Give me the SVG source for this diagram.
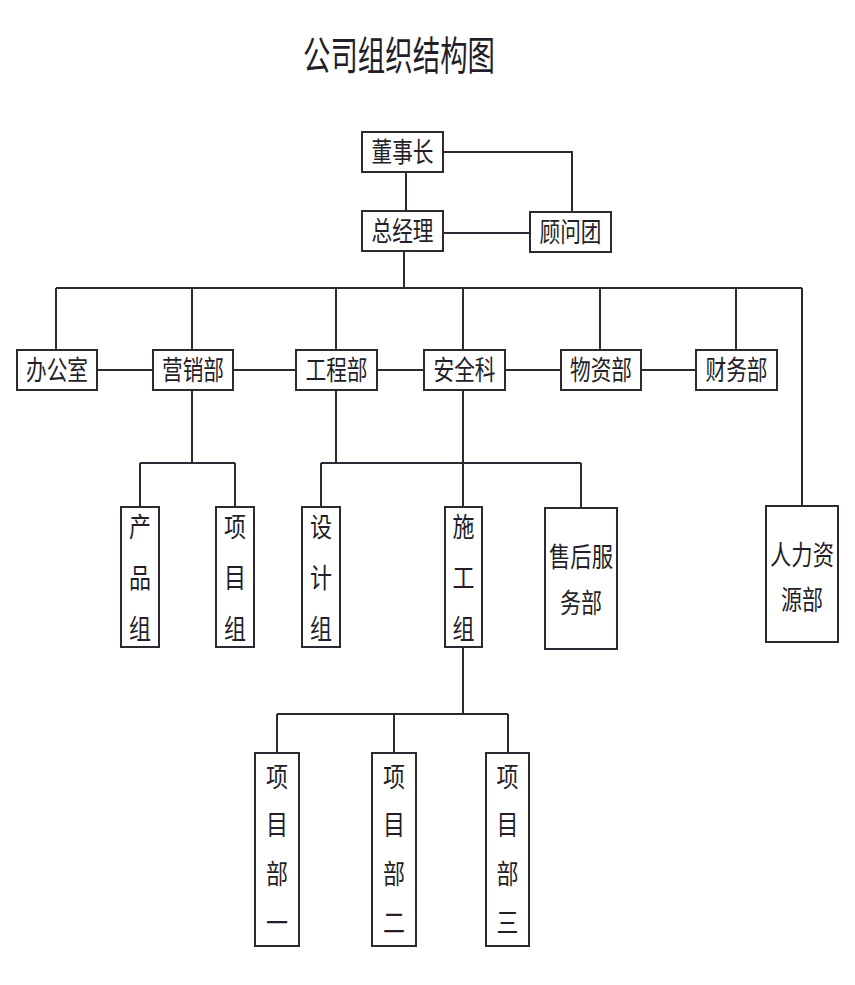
<svg xmlns="http://www.w3.org/2000/svg" width="855" height="985" viewBox="0 0 855 985">
<style>
.b{fill:#fff;stroke:#2e2833;stroke-width:2}
.t{font-family:"Noto Sans CJK SC","Noto Sans CJK JP",sans-serif;font-size:27px;fill:#231e28;text-anchor:middle}
.c{fill:none;stroke:#2e2833;stroke-width:2}
</style>
<rect width="855" height="985" fill="#fff"/>
<text x="399" y="70" class="t" style="font-size:40px" textLength="192" lengthAdjust="spacingAndGlyphs">公司组织结构图</text>
<g id="connectors">
<path class="c" d="M406 172V211M443 152H572V212M443 233H530M404 251V288M56 288H802M56 288V350M192 288V350M336 288V350M463 288V350M600 288V350M736 288V350M802 288V506"/>
<path class="c" d="M97 370H153M233 370H296M377 370H424M505 370H561M641 370H696"/>
<path class="c" d="M192 390V463M140 463H235M140 463V507M235 463V507M336 390V463M321 463H581M321 463V507M581 463V508M463 390V507"/>
<path class="c" d="M463 647V714M277 714H508M277 714V753M394 714V753M508 714V753"/>
</g>
<g id="n-dongshizhang"><rect class="b" x="362" y="132" width="81" height="40"/><text class="t" x="402.5" y="162" textLength="62" lengthAdjust="spacingAndGlyphs">董事长</text></g>
<g id="n-zongjingli"><rect class="b" x="362" y="211" width="81" height="40"/><text class="t" x="402.5" y="241" textLength="62" lengthAdjust="spacingAndGlyphs">总经理</text></g>
<g id="n-guwentuan"><rect class="b" x="530" y="212" width="81" height="40"/><text class="t" x="570.5" y="242" textLength="62" lengthAdjust="spacingAndGlyphs">顾问团</text></g>
<g id="n-bangongshi"><rect class="b" x="17" y="350" width="80" height="40"/><text class="t" x="57" y="380" textLength="62" lengthAdjust="spacingAndGlyphs">办公室</text></g>
<g id="n-yingxiaobu"><rect class="b" x="153" y="350" width="80" height="40"/><text class="t" x="193" y="380" textLength="62" lengthAdjust="spacingAndGlyphs">营销部</text></g>
<g id="n-gongchengbu"><rect class="b" x="296" y="350" width="81" height="40"/><text class="t" x="336.5" y="380" textLength="62" lengthAdjust="spacingAndGlyphs">工程部</text></g>
<g id="n-anquanke"><rect class="b" x="424" y="350" width="81" height="40"/><text class="t" x="464.5" y="380" textLength="62" lengthAdjust="spacingAndGlyphs">安全科</text></g>
<g id="n-wuzibu"><rect class="b" x="561" y="350" width="80" height="40"/><text class="t" x="601" y="380" textLength="62" lengthAdjust="spacingAndGlyphs">物资部</text></g>
<g id="n-caiwubu"><rect class="b" x="696" y="350" width="81" height="40"/><text class="t" x="736.5" y="380" textLength="62" lengthAdjust="spacingAndGlyphs">财务部</text></g>
<g id="n-chanpinzu"><rect class="b" x="121" y="507" width="38" height="140"/>
<text class="t" x="140" y="537" textLength="22" lengthAdjust="spacingAndGlyphs">产</text>
<text class="t" x="140" y="588" textLength="22" lengthAdjust="spacingAndGlyphs">品</text>
<text class="t" x="140" y="639" textLength="22" lengthAdjust="spacingAndGlyphs">组</text></g>
<g id="n-xiangmuzu"><rect class="b" x="216" y="507" width="38" height="140"/>
<text class="t" x="235" y="537" textLength="22" lengthAdjust="spacingAndGlyphs">项</text>
<text class="t" x="235" y="588" textLength="22" lengthAdjust="spacingAndGlyphs">目</text>
<text class="t" x="235" y="639" textLength="22" lengthAdjust="spacingAndGlyphs">组</text></g>
<g id="n-shejizu"><rect class="b" x="302" y="507" width="38" height="140"/>
<text class="t" x="321" y="537" textLength="22" lengthAdjust="spacingAndGlyphs">设</text>
<text class="t" x="321" y="588" textLength="22" lengthAdjust="spacingAndGlyphs">计</text>
<text class="t" x="321" y="639" textLength="22" lengthAdjust="spacingAndGlyphs">组</text></g>
<g id="n-shigongzu"><rect class="b" x="445" y="507" width="37" height="140"/>
<text class="t" x="463.5" y="537" textLength="22" lengthAdjust="spacingAndGlyphs">施</text>
<text class="t" x="463.5" y="588" textLength="22" lengthAdjust="spacingAndGlyphs">工</text>
<text class="t" x="463.5" y="639" textLength="22" lengthAdjust="spacingAndGlyphs">组</text></g>
<g id="n-shouhoufuwubu"><rect class="b" x="545" y="508" width="72" height="141"/>
<text class="t" x="581" y="567" textLength="64" lengthAdjust="spacingAndGlyphs">售后服</text>
<text class="t" x="581" y="613" textLength="42" lengthAdjust="spacingAndGlyphs">务部</text></g>
<g id="n-renliziyuanbu"><rect class="b" x="766" y="506" width="72" height="136"/>
<text class="t" x="802" y="565" textLength="64" lengthAdjust="spacingAndGlyphs">人力资</text>
<text class="t" x="802" y="610" textLength="42" lengthAdjust="spacingAndGlyphs">源部</text></g>
<g id="n-xiangmubu1"><rect class="b" x="255" y="753" width="44" height="193"/>
<text class="t" x="277" y="787" textLength="22" lengthAdjust="spacingAndGlyphs">项</text>
<text class="t" x="277" y="835" textLength="22" lengthAdjust="spacingAndGlyphs">目</text>
<text class="t" x="277" y="884" textLength="22" lengthAdjust="spacingAndGlyphs">部</text>
<text class="t" x="277" y="933" textLength="22" lengthAdjust="spacingAndGlyphs">一</text></g>
<g id="n-xiangmubu2"><rect class="b" x="372" y="753" width="44" height="193"/>
<text class="t" x="394" y="787" textLength="22" lengthAdjust="spacingAndGlyphs">项</text>
<text class="t" x="394" y="835" textLength="22" lengthAdjust="spacingAndGlyphs">目</text>
<text class="t" x="394" y="884" textLength="22" lengthAdjust="spacingAndGlyphs">部</text>
<text class="t" x="394" y="933" textLength="22" lengthAdjust="spacingAndGlyphs">二</text></g>
<g id="n-xiangmubu3"><rect class="b" x="486" y="753" width="43" height="193"/>
<text class="t" x="507.5" y="787" textLength="22" lengthAdjust="spacingAndGlyphs">项</text>
<text class="t" x="507.5" y="835" textLength="22" lengthAdjust="spacingAndGlyphs">目</text>
<text class="t" x="507.5" y="884" textLength="22" lengthAdjust="spacingAndGlyphs">部</text>
<text class="t" x="507.5" y="933" textLength="22" lengthAdjust="spacingAndGlyphs">三</text></g>
</svg>
